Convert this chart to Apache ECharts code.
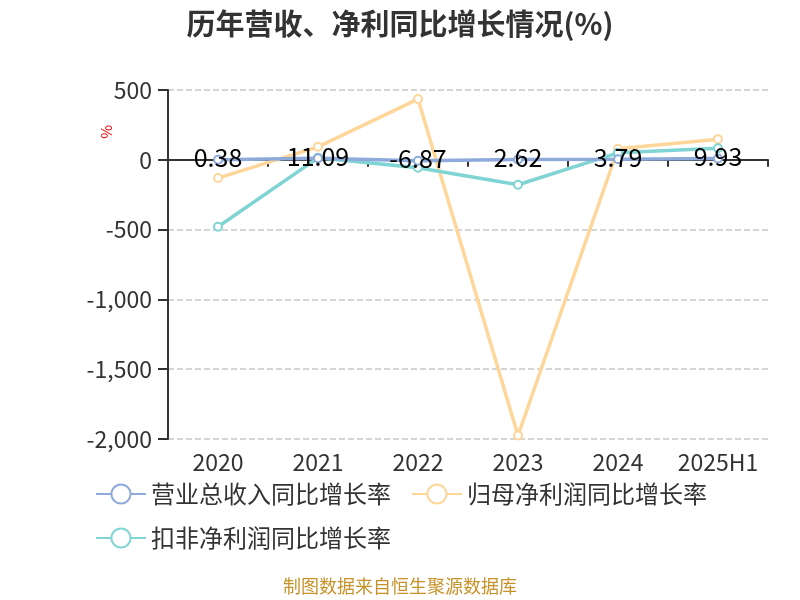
<!DOCTYPE html>
<html>
<head>
<meta charset="utf-8">
<script src="https://cdn.jsdelivr.net/npm/echarts@6/dist/echarts.min.js"></script>
<style>html,body{margin:0;padding:0;background:#fff}#c{width:800px;height:600px}</style>
</head>
<body>
<div id="c"></div>
<script>
const categories = ['2020', '2021', '2022', '2023', '2024', '2025H1'];
const revenueGrowth = [0.38, 11.09, -6.87, 2.62, 3.79, 9.93];
const netProfitGrowth = [-131, 93, 435, -1975, 79, 148];
const deductedProfitGrowth = [-480, 14, -57, -179, 50, 83];
const seriesNames = ['营业总收入同比增长率', '归母净利润同比增长率', '扣非净利润同比增长率'];

const font = '"Noto Sans CJK SC", "Noto Sans", sans-serif';
const chart = echarts.init(document.getElementById('c'));
chart.setOption({
  animation: false,
  color: ['#8eaadb', '#ffd699', '#80d4d4'],
  title: {
    text: '历年营收、净利同比增长情况(%)',
    left: 'center',
    top: 4,
    textStyle: { fontSize: 29, fontWeight: 'bold', color: '#333', fontFamily: font }
  },
  graphic: [
    {
      type: 'text',
      left: 99,
      top: 125,
      rotation: Math.PI / 2,
      style: { text: '%', fill: '#ff0000', fontSize: 15, fontFamily: font }
    },
    {
      type: 'text',
      left: 'center',
      top: 577,
      style: { text: '制图数据来自恒生聚源数据库', fill: '#c8922a', fontSize: 18, fontFamily: font }
    }
  ],
  legend: {
    left: 90,
    top: 477,
    width: 660,
    itemWidth: 50,
    itemHeight: 24,
    itemGap: 20,
    textStyle: { fontSize: 24, color: '#333', fontFamily: font },
    data: seriesNames
  },
  grid: { left: 168, right: 32, top: 90, bottom: 161 },
  xAxis: [
    {
      type: 'category',
      data: categories,
      axisLine: { onZero: true, lineStyle: { color: '#333', width: 2 } },
      axisTick: { show: true, length: 7, lineStyle: { color: '#333', width: 2 } },
      axisLabel: { show: false }
    },
    {
      type: 'category',
      data: categories,
      position: 'bottom',
      axisLine: { show: false, onZero: false },
      axisTick: { show: false },
      axisLabel: { interval: 0, hideOverlap: false, fontSize: 23, color: '#333', margin: 12, fontFamily: font }
    }
  ],
  yAxis: {
    type: 'value',
    min: -2000,
    max: 500,
    interval: 500,
    axisLine: { show: true, lineStyle: { color: '#333', width: 2 } },
    axisTick: { show: true, length: 10, lineStyle: { color: '#333', width: 2 } },
    axisLabel: { fontSize: 23, color: '#333', margin: 16, fontFamily: font },
    splitLine: { show: true, lineStyle: { type: 'dashed', color: '#c8c8c8', width: 1.5 } }
  },
  series: [
    {
      name: seriesNames[0],
      type: 'line',
      data: revenueGrowth,
      symbol: 'emptyCircle',
      symbolSize: 8,
      lineStyle: { width: 3.5 },
      label: {
        show: true,
        position: 'inside',
        offset: [0, -2],
        fontSize: 25,
        color: '#000',
        fontFamily: font
      },
      z: 3
    },
    {
      name: seriesNames[1],
      type: 'line',
      data: netProfitGrowth,
      symbol: 'emptyCircle',
      symbolSize: 8,
      lineStyle: { width: 3.5 },
      z: 2
    },
    {
      name: seriesNames[2],
      type: 'line',
      data: deductedProfitGrowth,
      symbol: 'emptyCircle',
      symbolSize: 8,
      lineStyle: { width: 3.5 },
      z: 2
    }
  ]
});
</script>
</body>
</html>
